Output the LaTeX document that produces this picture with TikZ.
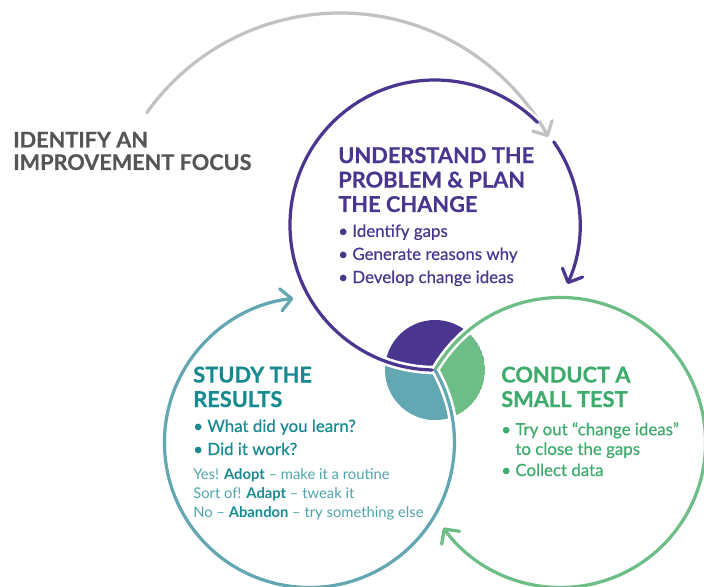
\documentclass[tikz,border=0pt]{standalone}
\usepackage{fontspec}
\setmainfont{Lato}
\newfontfamily\medium[FakeBold=0.5]{Lato}
\newfontfamily\heavy[BoldFeatures={FakeBold=0.6}]{Lato}
\usetikzlibrary{arrows.meta,calc}
\definecolor{planpurple}{HTML}{4A368F}
\definecolor{dogreen}{HTML}{6CBD86}
\definecolor{dotext}{HTML}{3EAA6B}
\definecolor{studyteal}{HTML}{63A7B2}
\definecolor{studytext}{HTML}{178A90}
\definecolor{studylight}{HTML}{4FA4AC}
\definecolor{focusgray}{HTML}{C2C2C2}
\definecolor{focustext}{HTML}{555555}

\begin{document}
\begin{tikzpicture}[x=0.025cm,y=0.025cm,
  ring/.style={line width=2.3pt,line cap=round,preaction={draw=white,line width=6pt}},
  barb/.style={-{Straight Barb[length=0.27cm,width=0.55cm,round]}},
  title/.style={anchor=base west,align=left,inner sep=0pt,font=\heavy\bfseries\fontsize{15.5}{17.4}\selectfont},
  bullets/.style={anchor=base west,align=left,inner sep=0pt,font=\medium\fontsize{12}{16.4}\selectfont},
  small/.style={anchor=base west,align=left,inner sep=0pt,font=\fontsize{10.5}{13.2}\selectfont}]
  \useasboundingbox (-435,-216) rectangle (269,370);
  \coordinate (O) at (0,0);
  \coordinate (plan) at (0,145);
  \coordinate (do) at (125.57,-72.5);
  \coordinate (study) at (-125.57,-72.5);
  \coordinate (focus) at (-95,120);

  \begin{scope}
    \clip (O) circle[radius=50];
    \begin{scope}
      \clip (plan) circle[radius=145];
      \fill[planpurple] (O) circle[radius=50];
    \end{scope}
    \begin{scope}
      \clip (do) circle[radius=145];
      \fill[dogreen] (O) circle[radius=50];
    \end{scope}
    \begin{scope}
      \clip (study) circle[radius=145];
      \fill[studyteal,even odd rule] (O) circle[radius=50] (plan) circle[radius=145];
    \end{scope}
  \end{scope}

  \draw[ring,focusgray,barb] ($(focus)+(144.6:237)$) arc[start angle=144.6,end angle=28.5,radius=237];
  \draw[ring,planpurple] ($(plan)+(-90:145)$) arc[start angle=-90,end angle=-315,radius=145];
  \draw[ring,planpurple,barb] ($(plan)+(35:145)$) arc[start angle=35,end angle=-24,radius=145];
  \draw[ring,dogreen,barb] ($(do)+(150:145)$) arc[start angle=150,end angle=-144,radius=145];
  \draw[ring,studyteal,barb] ($(study)+(30:145)$) arc[start angle=30,end angle=-263.6,radius=145];

  \node[anchor=base west,align=left,inner sep=0pt,text=focustext,
    font=\heavy\bfseries\fontsize{15.4}{16}\selectfont] (focustitle) at (-422,200)
    {IDENTIFY AN\\IMPROVEMENT FOCUS};

  \node[title,text=planpurple] (plantitle) at (-97,158)
    {UNDERSTAND THE\\PROBLEM \& PLAN\\THE CHANGE};
  \node[bullets,text=planpurple] (planlist) at (-97,87)
    {• Identify gaps\\• Generate reasons why\\• Develop change ideas};

  \node[title,text=dotext] (dotitle) at (66,-37)
    {CONDUCT A\\SMALL TEST};
  \node[bullets,text=dotext,font=\medium\fontsize{12}{14}\selectfont] (dolist) at (66,-106)
    {• Try out “change ideas”\\\phantom{• }to close the gaps\\[1pt]• Collect data};

  \node[title,text=studytext] (studytitle) at (-242,-37)
    {STUDY THE\\RESULTS};
  \node[bullets,text=studytext] (studylist) at (-242,-85)
    {• What did you learn?\\• Did it work?};
  \node[small,text=studylight] (studyend) at (-242,-147)
    {Yes! \textcolor{studytext}{\bfseries Adopt} – make it a routine\\
     Sort of! \textcolor{studytext}{\bfseries Adapt} – tweak it\\
     No – \textcolor{studytext}{\bfseries Abandon} – try something else};
\end{tikzpicture}
\end{document}
